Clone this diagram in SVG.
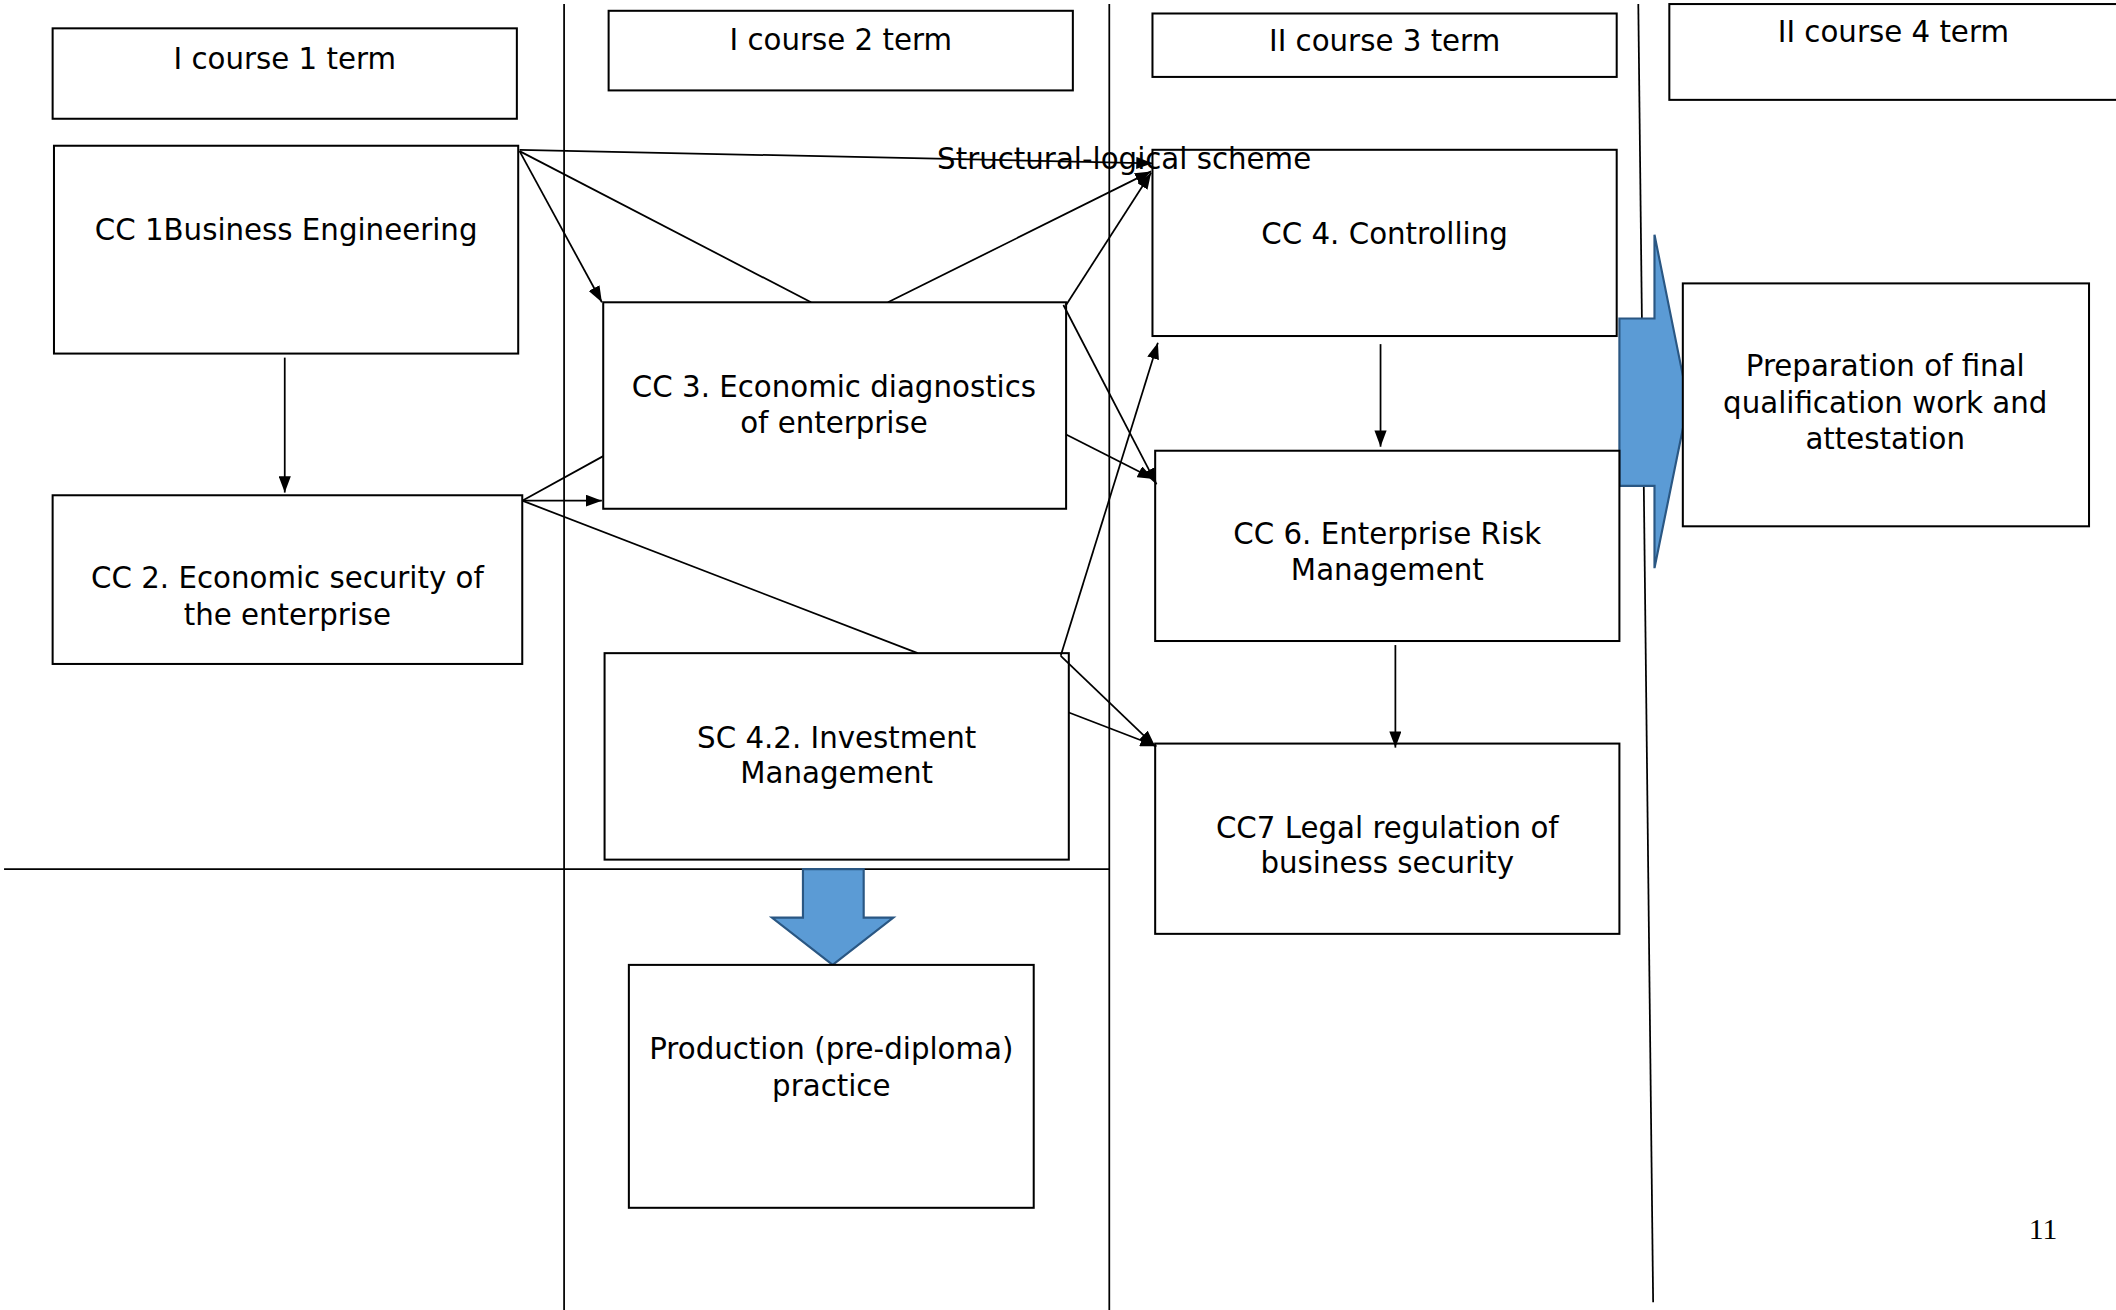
<svg xmlns="http://www.w3.org/2000/svg" width="2116" height="1310" viewBox="0 0 2116 1310">
<defs>
<marker id="ah" markerUnits="userSpaceOnUse" markerWidth="12" markerHeight="9" refX="12" refY="4.5" orient="auto">
<path d="M0,0 L12,4.5 L0,9 z" fill="#000"/>
</marker>
<style>
.box{fill:#fff;stroke:#000;stroke-width:1.5}
.t{font-family:"DejaVu Sans","Verdana",sans-serif;font-size:21.7px;fill:#000;text-anchor:middle}
.ln{stroke:#000;stroke-width:1.3;fill:none}
.c{stroke:#000;stroke-width:1.3;fill:none}
.ca{stroke:#000;stroke-width:1.3;fill:none;marker-end:url(#ah)}
.big{fill:#5B9BD5;stroke:#2A5783;stroke-width:1.6}
</style>
</defs>
<rect width="2116" height="1310" fill="#fff"/>
<g transform="scale(1.3495)">
<g id="grid">
<line class="ln" x1="418" y1="3" x2="418" y2="971"/>
<line class="ln" x1="822" y1="3" x2="822" y2="971"/>
<line class="ln" x1="1214" y1="3" x2="1225" y2="965"/>
<line class="ln" x1="3" y1="644" x2="822" y2="644"/>
</g>
<g id="term1"><rect class="box" x="39" y="21" width="344" height="67"/><text class="t" x="211" y="51">I course 1 term</text></g>
<g id="term2"><rect class="box" x="451" y="8" width="344" height="59"/><text class="t" x="623" y="37">I course 2 term</text></g>
<g id="term3"><rect class="box" x="854" y="10" width="344" height="47"/><text class="t" x="1026" y="38">II course 3 term</text></g>
<g id="term4"><rect class="box" x="1237" y="3" width="345" height="71"/><text class="t" x="1403" y="31">II course 4 term</text></g>
<g id="arrow-right"><path class="big" d="M1200,236 L1226,236 L1226,174 L1251,298 L1226,421 L1226,360 L1200,360 z"/></g>
<g id="arrow-down"><path class="big" d="M595,644 L640,644 L640,680 L662,680 L617,715 L572,680 L595,680 z"/></g>
<g id="cc1"><rect class="box" x="40" y="108" width="344" height="154"/><text class="t" x="212" y="178">CC 1Business Engineering</text></g>
<g id="cc2"><rect class="box" x="39" y="367" width="348" height="125"/><text class="t" x="213" y="436">CC 2. Economic security of</text><text class="t" x="213" y="463">the enterprise</text></g>
<g id="cc3"><rect class="box" x="447" y="224" width="343" height="153"/><text class="t" x="618" y="294">CC 3. Economic diagnostics</text><text class="t" x="618" y="321">of enterprise</text></g>
<g id="sc42"><rect class="box" x="448" y="484" width="344" height="153"/><text class="t" x="620" y="554">SC 4.2. Investment</text><text class="t" x="620" y="580">Management</text></g>
<g id="practice"><rect class="box" x="466" y="715" width="300" height="180"/><text class="t" x="616" y="785">Production (pre-diploma)</text><text class="t" x="616" y="812">practice</text></g>
<g id="cc4"><rect class="box" x="854" y="111" width="344" height="138"/><text class="t" x="1026" y="181">CC 4. Controlling</text></g>
<g id="cc6"><rect class="box" x="856" y="334" width="344" height="141"/><text class="t" x="1028" y="403">CC 6. Enterprise Risk</text><text class="t" x="1028" y="430">Management</text></g>
<g id="cc7"><rect class="box" x="856" y="551" width="344" height="141"/><text class="t" x="1028" y="621">CC7 Legal regulation of</text><text class="t" x="1028" y="647">business security</text></g>
<g id="final"><rect class="box" x="1247" y="210" width="301" height="180"/><text class="t" x="1397" y="279">Preparation of final</text><text class="t" x="1397" y="306">qualification work and</text><text class="t" x="1397" y="333">attestation</text></g>
<g id="connectors">
<line class="ca" x1="385" y1="111" x2="854" y2="121"/>
<line class="ca" x1="385" y1="112" x2="446" y2="224"/>
<line class="c" x1="385" y1="112" x2="601" y2="224"/>
<line class="ca" x1="658" y1="224" x2="853" y2="127"/>
<line class="ca" x1="790" y1="226" x2="853" y2="128"/>
<line class="ca" x1="788" y1="226" x2="857" y2="359"/>
<line class="ca" x1="790" y1="322" x2="855" y2="355"/>
<line class="ca" x1="387" y1="371" x2="446" y2="371"/>
<line class="c" x1="387" y1="371" x2="447" y2="338"/>
<line class="c" x1="387" y1="371" x2="680" y2="484"/>
<line class="ca" x1="786" y1="486" x2="858" y2="254"/>
<line class="ca" x1="786" y1="486" x2="856" y2="553"/>
<line class="ca" x1="792" y1="528" x2="857" y2="553"/>
<line class="ca" x1="211" y1="265" x2="211" y2="365"/>
<line class="ca" x1="1023" y1="255" x2="1023" y2="331"/>
<line class="ca" x1="1034" y1="478" x2="1034" y2="554"/>
</g>
<g id="title"><text class="t" x="833" y="125">Structural-logical scheme</text></g>
<g id="page"><text x="1514" y="918" font-family="Liberation Serif, serif" font-size="22" text-anchor="middle" fill="#000">11</text></g>
</g>
</svg>
